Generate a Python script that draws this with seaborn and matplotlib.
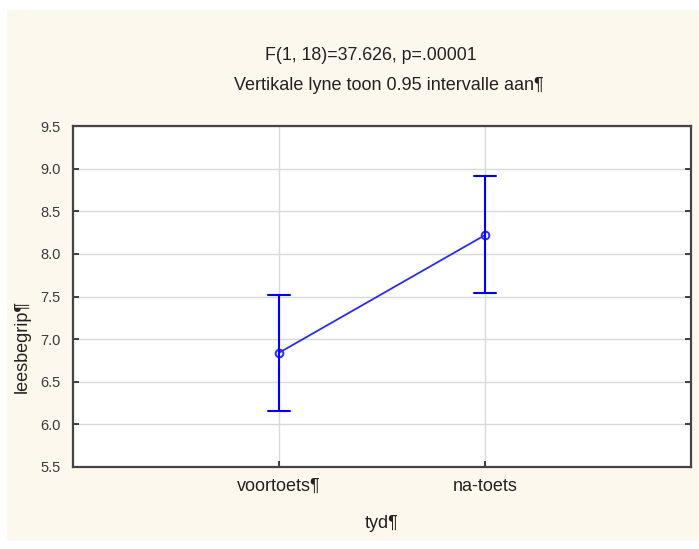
import matplotlib
matplotlib.use("Agg")
import matplotlib.pyplot as plt
import seaborn as sns
import pandas as pd
from matplotlib.patches import Rectangle

# ---- data ----
categories = ["voortoets¶", "na-toets"]
means = [6.84, 8.22]
ci_lower = [6.16, 7.54]
ci_upper = [7.52, 8.91]
y_ticks = [5.5, 6.0, 6.5, 7.0, 7.5, 8.0, 8.5, 9.0, 9.5]

rows = []
for c, lo, m, hi in zip(categories, ci_lower, means, ci_upper):
    for v in (lo, m, hi):
        rows.append({"tyd": c, "leesbegrip": v})
df = pd.DataFrame(rows)

sns.set_theme(style="white")
plt.rcParams["font.family"] = ["Liberation Sans", "DejaVu Sans"]

fig = plt.figure(figsize=(6.99, 5.49), dpi=100)
fig.patch.set_facecolor("white")
fig.patches.append(Rectangle((7 / 699, 1 - 541 / 549), 692 / 699, 531 / 549,
                             transform=fig.transFigure, facecolor="#fdf8ed",
                             edgecolor="none", zorder=-10))

ax = fig.add_axes([73 / 699, 1 - 467 / 549, 618 / 699, 341 / 549])
ax.set_facecolor("white")

sns.pointplot(data=df, x="tyd", y="leesbegrip", order=categories,
              estimator="median", errorbar=("pi", 100), capsize=0.11,
              color="#2a2aff", markers="o", ax=ax,
              markersize=5.5, markerfacecolor="none", markeredgewidth=1.4,
              linewidth=1.3, err_kws={"linewidth": 1.5, "color": "#0000ff"})

ax.set_xlim(-1, 2)
ax.set_ylim(5.5, 9.5)
ax.set_yticks(y_ticks)
ax.set_yticklabels([f"{t:.1f}" for t in y_ticks])

ax.grid(True, color="#d9d9d9", linewidth=1.0)
ax.set_axisbelow(True)
for s in ax.spines.values():
    s.set_visible(True)
    s.set_color("#444444")
    s.set_linewidth(1.6)

ax.tick_params(axis="y", which="both", direction="in", length=4, width=1.2,
               color="#222222", left=True, right=True, labelsize=10.5,
               labelcolor="#3a3a3a", pad=9)
ax.tick_params(axis="x", which="both", direction="in", length=4, width=1.2,
               color="#222222", bottom=True, top=False, labelsize=13,
               labelcolor="#222222", pad=8)

ax.set_xlabel("tyd¶", fontsize=13, color="#222222")
ax.xaxis.set_label_coords(0.5, -0.14)
ax.set_ylabel("leesbegrip¶", fontsize=13, color="#222222")
ax.yaxis.set_label_coords(-0.068, 0.352)

fig.text(371 / 699, 1 - 55 / 549, "F(1, 18)=37.626, p=.00001", ha="center",
         va="center", fontsize=12.8, color="#222222")
fig.text(389 / 699, 1 - 85 / 549, "Vertikale lyne toon 0.95 intervalle aan¶",
         ha="center", va="center", fontsize=13, color="#222222")

fig.savefig("out.png", dpi=100, facecolor=fig.get_facecolor())
